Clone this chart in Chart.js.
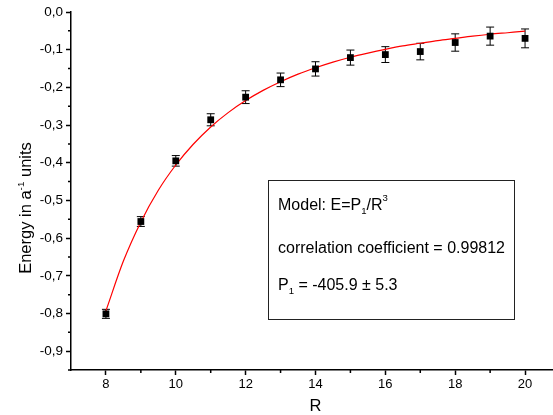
<!DOCTYPE html>
<html>
<head>
<meta charset="utf-8">
<script src="https://cdn.jsdelivr.net/npm/chart.js@4"></script>
<style>
  body { margin: 0; background: #fff; }
  canvas { display: block; }
</style>
</head>
<body>
<canvas id="chart" width="553" height="415"></canvas>
<script>
// measured points
const rValues = [8, 9, 10, 11, 12, 13, 14, 15, 16, 17, 18, 19, 20];
const energy = [-0.801, -0.556, -0.395, -0.286, -0.226, -0.180, -0.151, -0.121, -0.113, -0.105, -0.081, -0.064, -0.070];
const energyErr = [0.012, 0.013, 0.014, 0.016, 0.017, 0.018, 0.019, 0.020, 0.021, 0.022, 0.023, 0.024, 0.025];

// fitted curve
const curveR = [8, 8.5, 9, 9.5, 10, 10.5, 11, 11.5, 12, 12.5, 13, 13.5, 14, 14.5, 15, 15.5, 16, 16.5, 17, 17.5, 18, 18.5, 19, 19.5, 20];
const curveE = [-0.793, -0.661, -0.557, -0.473, -0.406, -0.351, -0.305, -0.267, -0.235, -0.208, -0.185, -0.165, -0.148, -0.133, -0.120, -0.109, -0.099, -0.090, -0.083, -0.076, -0.070, -0.064, -0.059, -0.055, -0.051];

const xTicks = [8, 10, 12, 14, 16, 18, 20];
const yTicks = [0, -0.1, -0.2, -0.3, -0.4, -0.5, -0.6, -0.7, -0.8, -0.9];

const FONT = '"Liberation Sans", Arial, sans-serif';

function drawRich(ctx, x, y, parts, size) {
  let cx = x;
  parts.forEach(([txt, kind]) => {
    let s = size, dy = 0;
    if (kind === 'sub') { s = size * 0.6; dy = size * 0.35; }
    if (kind === 'sup') { s = size * 0.6; dy = -size * 0.45; }
    ctx.font = s + 'px ' + FONT;
    ctx.fillText(txt, cx, y + dy);
    cx += ctx.measureText(txt).width;
  });
  return cx - x;
}

function richWidth(ctx, parts, size) {
  let w = 0;
  parts.forEach(([txt, kind]) => {
    const s = kind === 'n' ? size : size * 0.6;
    ctx.font = s + 'px ' + FONT;
    w += ctx.measureText(txt).width;
  });
  return w;
}

const errorBars = {
  id: 'errorBars',
  beforeDatasetsDraw(chart) {
    const { ctx, scales: { x, y } } = chart;
    ctx.save();
    ctx.strokeStyle = '#000';
    ctx.lineWidth = 1;
    rValues.forEach((r, i) => {
      const px = x.getPixelForValue(r);
      const top = y.getPixelForValue(energy[i] + energyErr[i]);
      const bot = y.getPixelForValue(energy[i] - energyErr[i]);
      ctx.beginPath();
      ctx.moveTo(px, top); ctx.lineTo(px, bot);
      ctx.moveTo(px - 4, top); ctx.lineTo(px + 4, top);
      ctx.moveTo(px - 4, bot); ctx.lineTo(px + 4, bot);
      ctx.stroke();
    });
    ctx.restore();
  }
};

const decorations = {
  id: 'decorations',
  afterDraw(chart) {
    const { ctx, scales: { x, y }, chartArea } = chart;
    ctx.save();
    ctx.strokeStyle = '#000';
    ctx.lineWidth = 1.5;
    // minor ticks
    ctx.beginPath();
    for (let i = 0; i < yTicks.length; i++) {
      const v = yTicks[i] - 0.05;
      const py = y.getPixelForValue(v);
      ctx.moveTo(chartArea.left - 3, py); ctx.lineTo(chartArea.left, py);
    }
    for (let i = 0; i < xTicks.length; i++) {
      const v = xTicks[i] + 1;
      if (v > x.max) continue;
      const px = x.getPixelForValue(v);
      ctx.moveTo(px, chartArea.bottom); ctx.lineTo(px, chartArea.bottom + 3);
    }
    ctx.stroke();

    ctx.fillStyle = '#000';
    // x title
    ctx.font = '16.5px ' + FONT;
    ctx.textAlign = 'center';
    ctx.textBaseline = 'middle';
    ctx.fillText('R', x.getPixelForValue(14), 406);

    // y title with superscript
    const yParts = [['Energy in a', 'n'], ['-1', 'sup'], [' units', 'n']];
    const tw = richWidth(ctx, yParts, 16.5);
    ctx.save();
    ctx.translate(31, 208);
    ctx.rotate(-Math.PI / 2);
    ctx.textAlign = 'left';
    ctx.textBaseline = 'alphabetic';
    drawRich(ctx, -tw / 2, 0, yParts, 16.5);
    ctx.restore();

    // model box
    ctx.lineWidth = 1;
    ctx.strokeStyle = '#222';
    ctx.strokeRect(268.5, 180.5, 246, 139);
    ctx.textAlign = 'left';
    ctx.textBaseline = 'middle';
    drawRich(ctx, 278, 206, [['Model: E=P', 'n'], ['1', 'sub'], ['/R', 'n'], ['3', 'sup']], 16);
    drawRich(ctx, 278, 249, [['correlation coefficient = 0.99812', 'n']], 16);
    drawRich(ctx, 278, 286, [['P', 'n'], ['1', 'sub'], [' = -405.9 \u00b1 5.3', 'n']], 16);
    ctx.restore();
  }
};

new Chart(document.getElementById('chart'), {
  type: 'scatter',
  data: {
    datasets: [
      {
        label: 'Energy',
        data: rValues.map((r, i) => ({ x: r, y: energy[i] })),
        pointStyle: 'rect',
        pointRadius: 4.8,
        pointBackgroundColor: '#000',
        pointBorderColor: '#000',
        pointBorderWidth: 0,
        showLine: false,
      },
      {
        label: 'Fit',
        type: 'line',
        data: curveR.map((r, i) => ({ x: r, y: curveE[i] })),
        borderColor: '#ff0000',
        borderWidth: 1.2,
        pointRadius: 0,
        fill: false,
        cubicInterpolationMode: 'monotone',
      },
    ],
  },
  options: {
    responsive: false,
    animation: false,
    events: [],
    layout: { autoPadding: false, padding: { top: 12, right: 0, left: 0, bottom: 0 } },
    scales: {
      x: {
        type: 'linear',
        min: 7,
        max: 20.8,
        afterBuildTicks: (s) => { s.ticks = xTicks.map((v) => ({ value: v })); },
        afterFit: (s) => { s.height = 45; s.paddingRight = 0; s.paddingLeft = 0; },
        border: { display: true, color: '#000', width: 1.5 },
        grid: { display: true, drawOnChartArea: false, drawTicks: true, tickLength: 5, tickColor: '#000', tickWidth: 1.5 },
        ticks: { color: '#000', padding: 2, font: { family: FONT, size: 13 }, callback: (v) => String(v) },
      },
      y: {
        type: 'linear',
        min: -0.95,
        max: 0,
        afterBuildTicks: (s) => { s.ticks = yTicks.map((v) => ({ value: v })); },
        afterFit: (s) => { s.width = 71; s.paddingTop = 0; s.paddingBottom = 0; },
        border: { display: true, color: '#000', width: 1.5 },
        grid: { display: true, drawOnChartArea: false, drawTicks: true, tickLength: 5, tickColor: '#000', tickWidth: 1.5 },
        ticks: {
          color: '#000', padding: 3, font: { family: FONT, size: 13.5 },
          callback: (v) => (Math.abs(v) < 1e-9 ? '0,0' : v.toFixed(1).replace('.', ',')),
        },
      },
    },
    plugins: {
      legend: { display: false },
      tooltip: { enabled: false },
    },
  },
  plugins: [errorBars, decorations],
});
</script>
</body>
</html>
